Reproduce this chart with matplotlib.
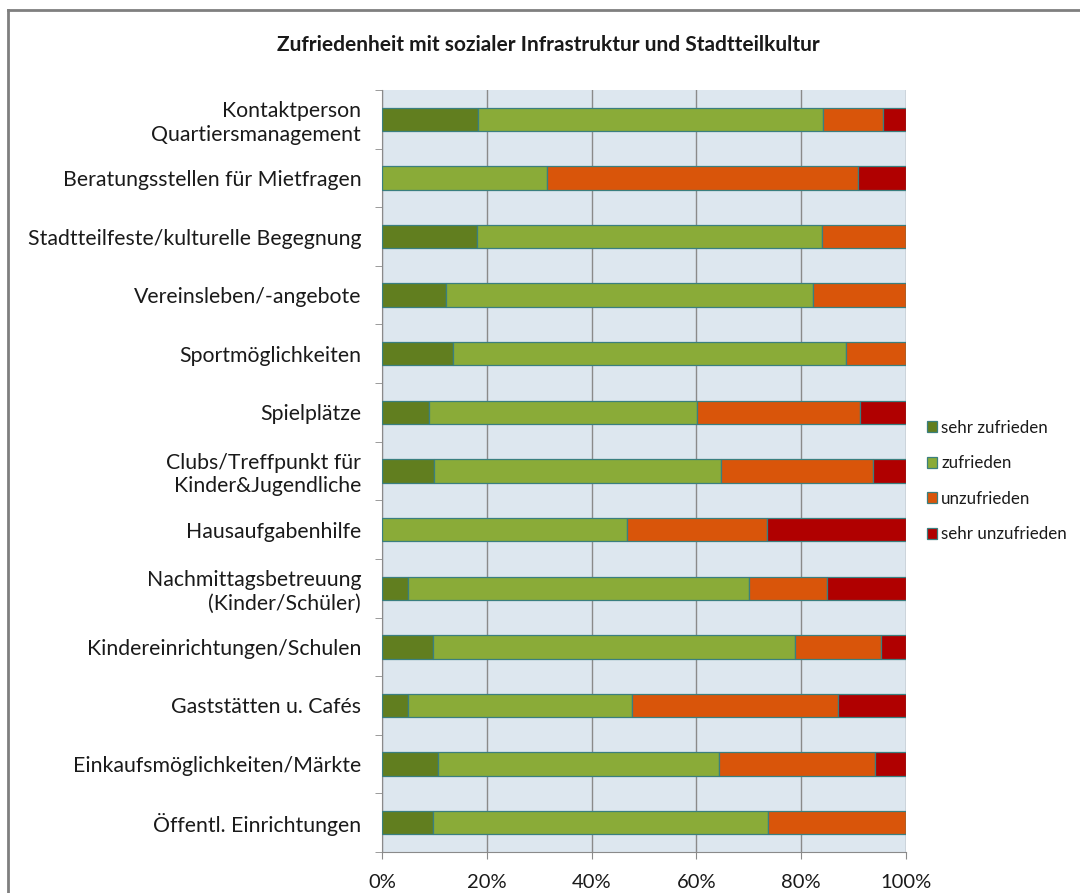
import matplotlib.pyplot as plt
import numpy as np
from matplotlib.ticker import FixedLocator, PercentFormatter
from matplotlib.lines import Line2D

plt.rcParams['font.family'] = ['Lato', 'DejaVu Sans']

categories = ["Kontaktperson\nQuartiersmanagement",
              "Beratungsstellen für Mietfragen",
              "Stadtteilfeste/kulturelle Begegnung",
              "Vereinsleben/-angebote",
              "Sportmöglichkeiten",
              "Spielplätze",
              "Clubs/Treffpunkt für\nKinder&Jugendliche",
              "Hausaufgabenhilfe",
              "Nachmittagsbetreuung\n(Kinder/Schüler)",
              "Kindereinrichtungen/Schulen",
              "Gaststätten u. Cafés",
              "Einkaufsmöglichkeiten/Märkte",
              "Öffentl. Einrichtungen"]

sehr_zufrieden = [18.4, 0.0, 18.2, 12.2, 13.5, 9.0, 9.9, 0.0, 5.0, 9.8, 5.0, 10.6, 9.8]
zufrieden = [65.8, 31.5, 65.8, 70.1, 75.1, 51.2, 54.8, 46.8, 65.1, 69.0, 42.8, 53.8, 63.8]
unzufrieden = [11.4, 59.3, 16.0, 17.7, 11.4, 31.1, 29.0, 26.7, 14.9, 16.4, 39.2, 29.7, 26.4]
sehr_unzufrieden = [4.4, 9.2, 0.0, 0.0, 0.0, 8.7, 6.3, 26.5, 15.0, 4.8, 13.0, 5.9, 0.0]

series_names = ["sehr zufrieden", "zufrieden", "unzufrieden", "sehr unzufrieden"]
colors = ["#617e1f", "#8aab38", "#d9550a", "#b00000"]

fig = plt.figure(figsize=(10.8, 8.93), dpi=100)
ax = fig.add_axes([382/1080, 1-852/893, 524/1080, 762/893])

y = np.arange(len(categories))
left = np.zeros(len(categories))
handles = []
for vals, name, col in zip([sehr_zufrieden, zufrieden, unzufrieden, sehr_unzufrieden],
                           series_names, colors):
    vals = np.array(vals)
    b = ax.barh(y, vals, left=left, height=0.4, color=col,
                edgecolor="#3a7f7f", linewidth=0.9, zorder=3, label=name)
    left += vals
    handles.append(b)

ax.set_xlim(0, 100)
ax.set_ylim(len(categories)-0.5, -0.5)
ax.set_facecolor("#dde7ef")
ax.set_xticks([0, 20, 40, 60, 80, 100])
ax.xaxis.set_major_formatter(PercentFormatter(decimals=0))
ax.grid(axis='x', color="#8a8a8a", linewidth=1.0, zorder=1)
ax.set_yticks(y)
ax.set_yticklabels(categories, fontsize=15.3, color="#1a1a1a", linespacing=1.2)
ax.yaxis.set_minor_locator(FixedLocator(np.arange(-0.5, len(categories), 1)))
ax.tick_params(axis='y', which='major', length=0, pad=15)
ax.tick_params(axis='y', which='minor', length=5, color="#8a8a8a", direction='out')
ax.tick_params(axis='x', length=5, color="#8a8a8a", labelsize=14.5,
               labelcolor="#1a1a1a", pad=11)
for s in ['top', 'right']:
    ax.spines[s].set_visible(False)
for s in ['left', 'bottom']:
    ax.spines[s].set_color("#8a8a8a")

fig.text(548/1080, 1-45/893, "Zufriedenheit mit sozialer Infrastruktur und Stadtteilkultur",
         ha='center', va='center', fontsize=15, fontweight='bold', color="#1a1a1a")

leg = fig.legend(handles, series_names, loc='upper left',
                 bbox_to_anchor=(920/1080, 1-413/893), frameon=False,
                 fontsize=12.2, handlelength=0.6, handleheight=0.6,
                 handletextpad=0.25, labelspacing=1.15, borderaxespad=0)
for t in leg.get_texts():
    t.set_color("#1a1a1a")

# outer chart frame
fig.add_artist(Line2D([8/1080, 8/1080], [0, 1-10/893], transform=fig.transFigure,
                      color="#7f7f7f", linewidth=2))
fig.add_artist(Line2D([8/1080, 1], [1-10/893, 1-10/893], transform=fig.transFigure,
                      color="#7f7f7f", linewidth=2))

fig.savefig("out.png", dpi=100, facecolor="white")
